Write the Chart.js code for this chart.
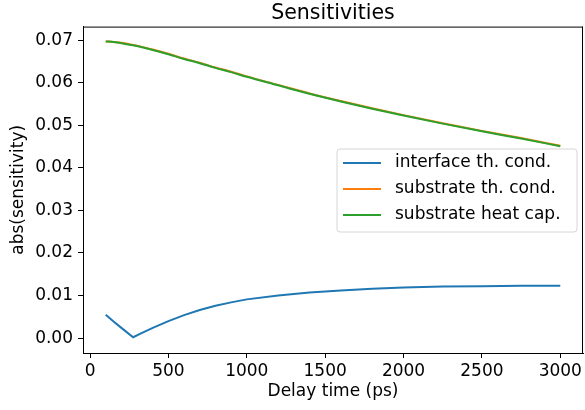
<!DOCTYPE html>
<html>
<head>
<meta charset="utf-8">
<script src="https://cdn.jsdelivr.net/npm/chart.js@4"></script>
<style>
  html, body { margin: 0; padding: 0; background: #ffffff; }
  #wrap { width: 585px; height: 410px; }
</style>
</head>
<body>
<div id="wrap"><canvas id="sensChart" width="585" height="410"></canvas></div>
<script>
// Delay times (ps) where the curves were sampled
const delayTimes = [100, 150, 200, 275, 325, 400, 500, 600, 700, 800, 900, 1000,
  1200, 1400, 1600, 1800, 2000, 2250, 2500, 2750, 3000];

const interfaceCond = [0.0055, 0.0039, 0.0024, 0.0002, 0.0011, 0.0024, 0.0040, 0.0054,
  0.0066, 0.0076, 0.0084, 0.0091, 0.0100, 0.0107, 0.0112, 0.0116, 0.0119, 0.0121,
  0.0122, 0.0123, 0.0123];

const substrateCond = [0.0697, 0.0696, 0.0694, 0.0689, 0.0685, 0.0678, 0.0668, 0.0657,
  0.0647, 0.0636, 0.0626, 0.0615, 0.0595, 0.0575, 0.0557, 0.0540, 0.0524, 0.0505,
  0.0487, 0.0470, 0.0452];

const substrateCap = [0.0697, 0.0696, 0.0693, 0.0688, 0.0684, 0.0677, 0.0667, 0.0656,
  0.0646, 0.0635, 0.0625, 0.0614, 0.0594, 0.0574, 0.0556, 0.0539, 0.0523, 0.0504,
  0.0486, 0.0469, 0.0451];

const seriesLabels = ["interface th. cond.", "substrate th. cond.", "substrate heat cap."];
const seriesColors = ["#1f77b4", "#ff7f0e", "#2ca02c"];

const xTickValues = [0, 500, 1000, 1500, 2000, 2500, 3000];
const yTickValues = [0.00, 0.01, 0.02, 0.03, 0.04, 0.05, 0.06, 0.07];

const FONT = "'DejaVu Sans', sans-serif";

function toPoints(values) {
  return values.map((v, i) => ({ x: delayTimes[i], y: v }));
}

// Top and right spines like matplotlib
const framePlugin = {
  id: "frame",
  afterDraw(chart) {
    const { ctx, chartArea } = chart;
    ctx.save();
    ctx.strokeStyle = "#000000";
    ctx.lineWidth = 1;
    ctx.beginPath();
    ctx.moveTo(chartArea.left, chartArea.top + 0.5);
    ctx.lineTo(chartArea.right, chartArea.top + 0.5);
    ctx.moveTo(chartArea.right - 0.5, chartArea.top);
    ctx.lineTo(chartArea.right - 0.5, chartArea.bottom);
    ctx.stroke();
    ctx.restore();
  },
};

// Legend box drawn inside the plot (center right)
const innerLegend = {
  id: "innerLegend",
  afterDatasetsDraw(chart) {
    const { ctx } = chart;
    const boxX = 337, boxY = 149, boxW = 240, boxH = 83, r = 3;
    ctx.save();
    ctx.beginPath();
    ctx.moveTo(boxX + r, boxY);
    ctx.arcTo(boxX + boxW, boxY, boxX + boxW, boxY + boxH, r);
    ctx.arcTo(boxX + boxW, boxY + boxH, boxX, boxY + boxH, r);
    ctx.arcTo(boxX, boxY + boxH, boxX, boxY, r);
    ctx.arcTo(boxX, boxY, boxX + boxW, boxY, r);
    ctx.closePath();
    ctx.fillStyle = "rgba(255,255,255,0.8)";
    ctx.fill();
    ctx.strokeStyle = "#d6d6d6";
    ctx.lineWidth = 1;
    ctx.stroke();

    ctx.font = "17px " + FONT;
    ctx.textBaseline = "middle";
    ctx.fillStyle = "#000000";
    chart.data.datasets.forEach((ds, i) => {
      const y = boxY + 14 + i * 26;
      ctx.strokeStyle = ds.borderColor;
      ctx.lineWidth = 2;
      ctx.beginPath();
      ctx.moveTo(343, y);
      ctx.lineTo(381, y);
      ctx.stroke();
      ctx.fillText(ds.label, 395, y);
    });
    ctx.restore();
  },
};

window.onload = function () {
  const ctx = document.getElementById("sensChart").getContext("2d");
  const seriesValues = [interfaceCond, substrateCond, substrateCap];

  new Chart(ctx, {
    type: "line",
    data: {
      datasets: seriesValues.map((vals, i) => ({
        label: seriesLabels[i],
        data: toPoints(vals),
        borderColor: seriesColors[i],
        backgroundColor: seriesColors[i],
        borderWidth: 2,
        pointRadius: 0,
        tension: 0,
        cubicInterpolationMode: i === 0 ? "default" : "monotone",
        fill: false,
        order: 2 - i,
      })),
    },
    options: {
      responsive: false,
      animation: false,
      devicePixelRatio: 1,
      layout: { padding: { left: 0, right: 0, top: 0, bottom: 0 } },
      plugins: {
        legend: { display: false },
        tooltip: { enabled: false },
        title: {
          display: true,
          text: "Sensitivities",
          fullSize: false,
          color: "#000000",
          font: { family: FONT, size: 20.5, weight: "normal" },
          padding: { top: 1, bottom: 1 },
        },
      },
      scales: {
        x: {
          type: "linear",
          min: -45,
          max: 3145,
          afterBuildTicks: (scale) => {
            scale.ticks = xTickValues.map((v) => ({ value: v }));
          },
          afterFit: (scale) => {
            scale.height = 57;
          },
          ticks: {
            color: "#000000",
            font: { family: FONT, size: 17 },
            padding: 3,
            maxRotation: 0,
            callback: (v) => String(v),
          },
          grid: {
            display: true,
            drawOnChartArea: false,
            drawTicks: true,
            tickLength: 5,
            color: "#000000",
          },
          border: { display: true, color: "#000000", width: 1 },
          title: {
            display: true,
            text: "Delay time (ps)",
            color: "#000000",
            font: { family: FONT, size: 17 },
            padding: { top: 0, bottom: 8 },
          },
        },
        y: {
          type: "linear",
          min: -0.0035,
          max: 0.0732,
          afterBuildTicks: (scale) => {
            scale.ticks = yTickValues.map((v) => ({ value: v }));
          },
          afterFit: (scale) => {
            scale.width = 83;
          },
          ticks: {
            color: "#000000",
            font: { family: FONT, size: 17 },
            padding: 5,
            callback: (v) => Number(v).toFixed(2),
          },
          grid: {
            display: true,
            drawOnChartArea: false,
            drawTicks: true,
            tickLength: 5,
            color: "#000000",
          },
          border: { display: true, color: "#000000", width: 1 },
          title: {
            display: true,
            text: "abs(sensitivity)",
            color: "#000000",
            font: { family: FONT, size: 17 },
            padding: { top: 8, bottom: 0 },
          },
        },
      },
    },
    plugins: [framePlugin, innerLegend],
  });
};
</script>
</body>
</html>
